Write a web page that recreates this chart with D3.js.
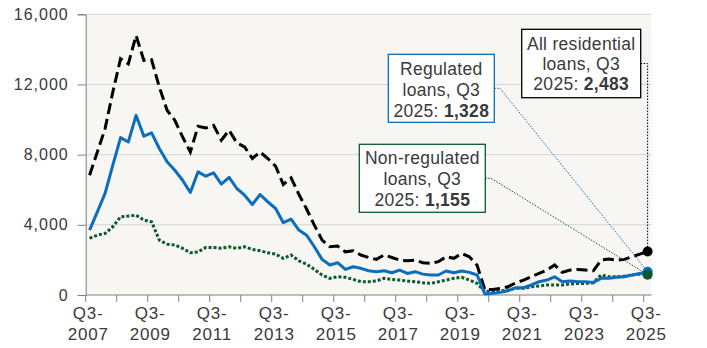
<!DOCTYPE html>
<html>
<head>
<meta charset="utf-8">
<script src="https://cdn.jsdelivr.net/npm/d3@7"></script>
<style>
  body { margin: 0; background: #fff; }
  svg { display: block; font-family: "Liberation Sans", Arial, sans-serif; }
</style>
</head>
<body>
<svg id="chart" width="707" height="348"></svg>
<script>
const svg = d3.select("#chart");

// quarters Q3-2007 .. Q3-2025
const quarters = d3.range(73).map((i) => {
  const q = ((2 + i) % 4) + 1;
  const yr = 2007 + Math.floor((2 + i) / 4);
  return `Q${q}-${yr}`;
});
const tickLabels = ["Q3-2007", "Q3-2009", "Q3-2011", "Q3-2013", "Q3-2015",
  "Q3-2017", "Q3-2019", "Q3-2021", "Q3-2023", "Q3-2025"];
const yTicks = [0, 4000, 8000, 12000, 16000];

const allLoans = [
  6830, 8150, 9480, 11570, 13470, 13180, 14790, 13370, 13410, 11850,
  10530, 9960, 9010, 8150, 9620, 9520, 9670, 8820, 9390, 8670,
  8440, 7780, 8150, 7780, 7340, 6300, 6680, 5740, 4900, 3980,
  3130, 2750, 2790, 2460, 2520, 2280, 2140, 2030, 2280, 2140,
  1990, 1950, 1990, 1840, 1800, 1900, 2180, 2090, 2370, 2180,
  1700, 300, 320, 380, 470, 700, 850, 1040, 1230, 1420,
  1710, 1290, 1420, 1460, 1420, 1380, 1990, 2050, 1990, 2030,
  2180, 2330, 2483
];
const regulated = [
  3700, 4740, 5790, 7400, 8970, 8720, 10240, 9050, 9240, 8350,
  7590, 7110, 6540, 5840, 7020, 6770, 6960, 6320, 6700, 6070,
  5690, 5160, 5730, 5310, 4930, 4120, 4320, 3700, 3410, 2750,
  2030, 1710, 1840, 1460, 1610, 1520, 1380, 1330, 1380, 1270,
  1420, 1230, 1330, 1190, 1140, 1140, 1370, 1270, 1370, 1290,
  1140, 60, 95, 150, 245, 415, 415, 570, 760, 850,
  1040, 760, 800, 760, 760, 720, 950, 950, 1010, 1040,
  1140, 1230, 1328
];
const nonRegulated = [
  3230, 3410, 3510, 3890, 4460, 4500, 4550, 4270, 4170, 3130,
  2900, 2850, 2660, 2410, 2460, 2710, 2710, 2660, 2750, 2660,
  2750, 2600, 2520, 2410, 2330, 2090, 2280, 1950, 1760, 1460,
  1140, 950, 1040, 1010, 890, 760, 760, 800, 950, 880,
  850, 800, 760, 700, 660, 750, 850, 950, 1010, 850,
  660, 190, 250, 230, 285, 380, 380, 470, 510, 570,
  570, 570, 630, 660, 660, 700, 1140, 1040, 1040, 1080,
  1140, 1190, 1155
];

const textCol = "#3a3a3a";
const blue = "#0a6ebd";
const green = "#0b5a2c";

const x = d3.scaleBand().domain(quarters).range([85.7, 651.5]);
const cx = (i) => x(quarters[i]) + x.bandwidth() / 2;
const y = d3.scaleLinear().domain([0, 16000]).range([295, 14.3]);

// plot background
svg.append("rect")
  .attr("x", 85.7).attr("y", y(16000))
  .attr("width", 651.5 - 85.7).attr("height", y(0) - y(16000))
  .attr("fill", "#f7f6f3");

// gridlines
svg.append("g")
  .selectAll("line")
  .data(yTicks.slice(1))
  .enter()
  .append("line")
  .attr("x1", 85.7).attr("x2", 651.5)
  .attr("y1", (d) => y(d)).attr("y2", (d) => y(d))
  .attr("stroke", "#d4d4d4").attr("stroke-width", 1);

// y axis
const yAxis = svg.append("g")
  .attr("transform", "translate(85.7,0)")
  .call(d3.axisLeft(y).tickValues(yTicks).tickSize(8).tickPadding(9)
    .tickFormat(d3.format(",")));
yAxis.select(".domain").attr("stroke", "#808080");
yAxis.selectAll(".tick line").attr("stroke", "#808080");
yAxis.selectAll("text")
  .attr("fill", textCol)
  .style("font-size", "16px")
  .style("letter-spacing", "1px")
  .style("font-family", "'Liberation Sans', Arial, sans-serif");

// x axis
const xg = svg.append("g");
xg.append("line")
  .attr("x1", 85.7).attr("x2", 651.5)
  .attr("y1", y(0)).attr("y2", y(0))
  .attr("stroke", "#808080");
xg.selectAll(".xtick")
  .data(quarters.filter((q, i) => i % 4 === 0))
  .enter()
  .append("line")
  .attr("x1", (d) => x(d)).attr("x2", (d) => x(d))
  .attr("y1", y(0)).attr("y2", y(0) + 7)
  .attr("stroke", "#808080");
const xl = xg.selectAll(".xlab")
  .data(tickLabels)
  .enter()
  .append("text")
  .attr("text-anchor", "middle")
  .attr("fill", textCol)
  .style("font-size", "17px")
  .style("letter-spacing", "0.8px")
  .attr("transform", (d) => `translate(${x(d) + 2.5},0)`);
xl.append("tspan").attr("x", 0).attr("y", 318.5).text((d) => d.split("-")[0] + "-");
xl.append("tspan").attr("x", 0).attr("y", 340).text((d) => d.split("-")[1]);

// lines
const line = (vals) => d3.line().x((d, i) => cx(i)).y((d) => y(d))(vals);

svg.append("path")
  .attr("d", line(nonRegulated))
  .attr("fill", "none").attr("stroke", green)
  .attr("stroke-width", 3).attr("stroke-dasharray", "3,2");

svg.append("path")
  .attr("d", line(allLoans))
  .attr("fill", "none").attr("stroke", "#000")
  .attr("stroke-width", 3).attr("stroke-dasharray", "11,5");

svg.append("path")
  .attr("d", line(regulated))
  .attr("fill", "none").attr("stroke", blue)
  .attr("stroke-width", 3).attr("stroke-linejoin", "round");

// annotations
const last = quarters.length - 1;
const notes = [
  { lines: ["All residential", "loans, Q3"], value: allLoans[last], color: "#000",
    box: [521.7, 29.3, 119, 68.4], base: 49.5, lh: 20.2, elbow: cx(last) },
  { lines: ["Regulated", "loans, Q3"], value: regulated[last], color: blue,
    box: [388.3, 54.3, 106, 68], base: 74.8, lh: 21, elbow: 500 },
  { lines: ["Non-regulated", "loans, Q3"], value: nonRegulated[last], color: green,
    box: [359.3, 144.3, 126, 68], base: 164.3, lh: 21, elbow: 491 }
];

notes.forEach((n) => {
  const [bx, by, bw, bh] = n.box;
  const my = by + bh / 2;
  svg.append("path")
    .attr("d", `M${bx + bw},${my}H${n.elbow}L${cx(last)},${y(n.value)}`)
    .attr("fill", "none").attr("stroke", n.color)
    .attr("stroke-width", 1).attr("stroke-dasharray", "1.5,1.5");
  svg.append("rect")
    .attr("x", bx).attr("y", by).attr("width", bw).attr("height", bh)
    .attr("fill", "#fff").attr("stroke", n.color).attr("stroke-width", 1.3);
  const t = svg.append("text")
    .attr("text-anchor", "middle")
    .attr("fill", textCol)
    .style("font-size", "17.5px")
    .style("letter-spacing", "0.3px");
  n.lines.forEach((s, k) => {
    t.append("tspan").attr("x", bx + bw / 2).attr("y", n.base + k * n.lh).text(s);
  });
  const t3 = t.append("tspan").attr("x", bx + bw / 2).attr("y", n.base + 2 * n.lh);
  t3.append("tspan").text("2025: ");
  t3.append("tspan").attr("font-weight", "bold").text(d3.format(",")(n.value));
});

// end markers
[[allLoans, "#000"], [regulated, blue], [nonRegulated, green]].forEach(([vals, c]) => {
  svg.append("circle")
    .attr("cx", cx(last)).attr("cy", y(vals[last]))
    .attr("r", 5).attr("fill", c);
});
</script>
</body>
</html>
